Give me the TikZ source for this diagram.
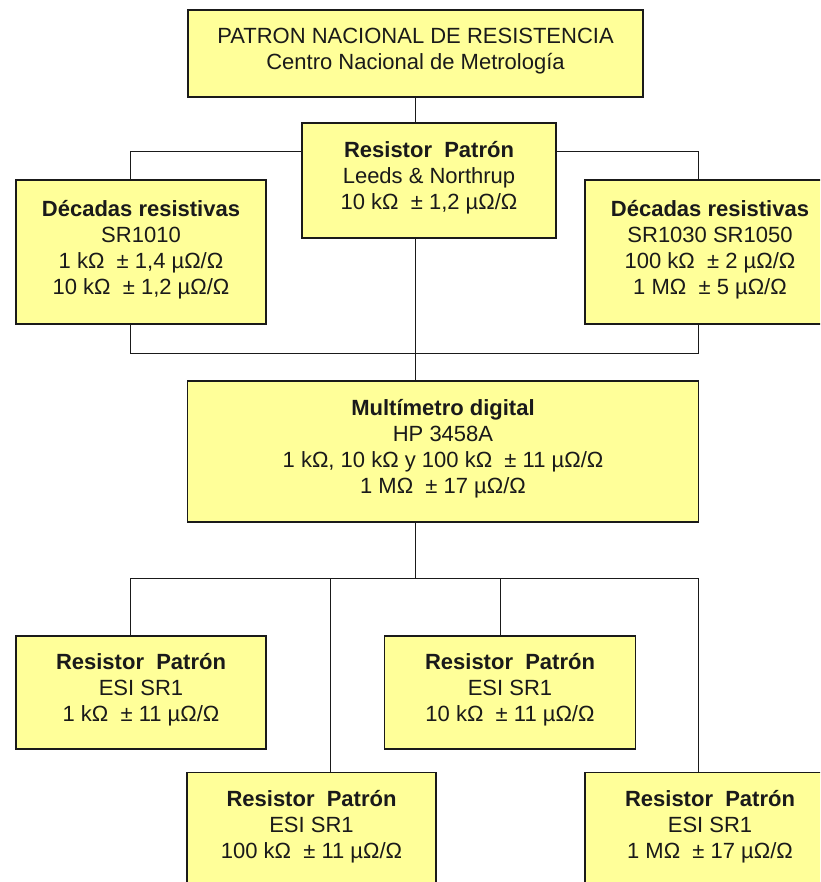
\documentclass[tikz,border=0pt]{standalone}
\usepackage{fontspec}
\setmainfont{Liberation Sans}
\usetikzlibrary{positioning}
\definecolor{boxfill}{HTML}{FFFF99}
\definecolor{ink}{HTML}{1A1A1A}
\tikzset{
  unit/.style={draw=ink,fill=boxfill,line width=1.2pt,inner sep=0pt,align=center,
    font=\fontsize{22}{26}\selectfont,text=ink,
    execute at end node={\rule[-10pt]{0pt}{10pt}}},
  wire/.style={draw=ink,line width=1pt}
}
\begin{document}
\begin{tikzpicture}[x=1pt,y=-1pt]
  \clip (0,0) rectangle (820,882);
  \fill[white] (0,0) rectangle (820,882);
  % nodes
  \node[unit,minimum width=455,minimum height=87] (top) at (415.5,53.5)
    {PATRON NACIONAL DE RESISTENCIA\\Centro Nacional de Metrología};
  \node[unit,minimum width=254,minimum height=115] (lnr) at (429,180.5)
    {\textbf{Resistor\ \ Patrón}\\Leeds \& Northrup\\10 kΩ\ \ ± 1,2 µΩ/Ω};
  \node[unit,minimum width=250,minimum height=144] (decL) at (141,252)
    {\textbf{Décadas resistivas}\\SR1010\\1 kΩ\ \ ± 1,4 µΩ/Ω\\10 kΩ\ \ ± 1,2 µΩ/Ω};
  \node[unit,minimum width=250,minimum height=144] (decR) at (710,252)
    {\textbf{Décadas resistivas}\\SR1030 SR1050\\100 kΩ\ \ ± 2 µΩ/Ω\\1 MΩ\ \ ± 5 µΩ/Ω};
  \node[unit,minimum width=511,minimum height=141] (mm) at (443,451.5)
    {\textbf{Multímetro digital}\\HP 3458A\\1 kΩ, 10 kΩ y 100 kΩ\ \ ± 11 µΩ/Ω\\1 MΩ\ \ ± 17 µΩ/Ω};
  \node[unit,minimum width=250,minimum height=113] (r1) at (141,692.5)
    {\textbf{Resistor\ \ Patrón}\\ESI SR1\\1 kΩ\ \ ± 11 µΩ/Ω};
  \node[unit,minimum width=251,minimum height=113] (r2) at (510,692.5)
    {\textbf{Resistor\ \ Patrón}\\ESI SR1\\10 kΩ\ \ ± 11 µΩ/Ω};
  \node[unit,minimum width=249,minimum height=113] (r3) at (311.5,829)
    {\textbf{Resistor\ \ Patrón}\\ESI SR1\\100 kΩ\ \ ± 11 µΩ/Ω};
  \node[unit,minimum width=250,minimum height=113] (r4) at (710,829)
    {\textbf{Resistor\ \ Patrón}\\ESI SR1\\1 MΩ\ \ ± 17 µΩ/Ω};
  % junctions
  \coordinate (jL) at (130,152);
  \coordinate (jR) at (698,152);
  \coordinate (mL) at (130,353);
  \coordinate (mR) at (698,353);
  \coordinate (bus) at (415,578);
  \coordinate (busL) at (130,578);
  \coordinate (busR) at (698,578);
  \coordinate (tap3) at (330,578);
  \coordinate (tap2) at (500,578);
  % connectors
  \draw[wire] (top.south) -- (top.south |- lnr.north);
  \draw[wire] (lnr.west |- jL) -| (jL |- decL.north);
  \draw[wire] (lnr.east |- jR) -| (jR |- decR.north);
  \draw[wire] (mL |- decL.south) -- (mL) -- (mR) -- (mR |- decR.south);
  \draw[wire] (top.south |- lnr.south) -- (top.south |- mm.north);
  \draw[wire] (bus |- mm.south) -- (bus);
  \draw[wire] (busL) -- (busR);
  \draw[wire] (busL) -- (busL |- r1.north);
  \draw[wire] (tap3) -- (tap3 |- r3.north);
  \draw[wire] (tap2) -- (tap2 |- r2.north);
  \draw[wire] (busR) -- (busR |- r4.north);
\end{tikzpicture}
\end{document}
